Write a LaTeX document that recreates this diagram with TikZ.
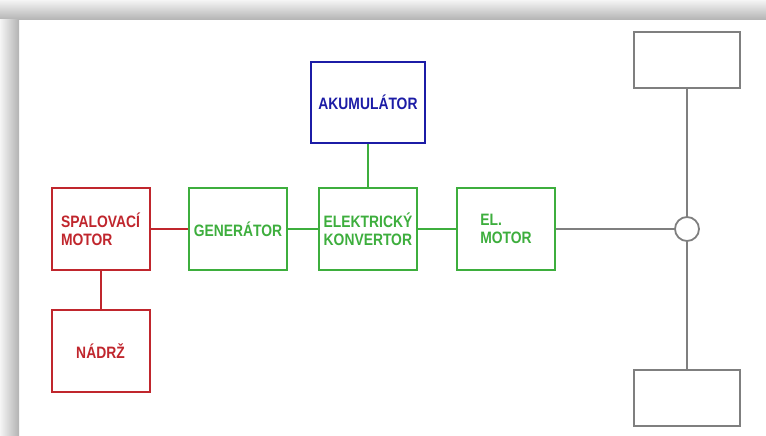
\documentclass[tikz,border=0pt]{standalone}
\usepackage{fontspec}
\newfontfamily\blokfont{Liberation Sans}[FakeStretch=0.84]
\usepackage{tikz}
\usetikzlibrary{positioning,calc,backgrounds}
\definecolor{spalred}{HTML}{C0262D}
\definecolor{elgreen}{HTML}{3DAE3D}
\definecolor{akublue}{HTML}{1C1CA6}
\definecolor{osgray}{HTML}{7F7F7F}
\tikzset{
  % bloky
  blk/.style={rectangle,line width=2pt,fill=white,minimum width=98pt,
              minimum height=82pt,inner sep=0pt,align=left,
              font=\blokfont\bfseries\fontsize{16.5}{18}\selectfont},
  spal/.style={blk,draw=spalred,text=spalred},
  elb/.style={blk,draw=elgreen,text=elgreen},
  aku/.style={blk,draw=akublue,text=akublue,minimum width=114pt,minimum height=81pt},
  kolo/.style={rectangle,draw=osgray,line width=2pt,fill=white,
               minimum width=106pt,minimum height=56pt,inner sep=0pt},
  kloub/.style={circle,draw=osgray,line width=1.8pt,fill=white,
                minimum size=24pt,inner sep=0pt},
  % spoje
  sr/.style={draw=spalred,line width=2pt},
  sg/.style={draw=elgreen,line width=2pt},
  so/.style={draw=osgray,line width=2pt},
}
\begin{document}
\begin{tikzpicture}[x=1pt,y=-1pt]
  \useasboundingbox (0,0) rectangle (766,436);
  % stin ramu
  \fill[top color=black!4,bottom color=black!30] (0,0) rectangle (766,20);
  \fill[left color=black!4,right color=black!30] (0,20) rectangle (19,436);
  \node[spal] (motor) at (100.5,229) {SPALOVACÍ\\MOTOR};
  \node[spal] (nadrz) at (100.5,351) {\raisebox{-2pt}{NÁDRŽ}};
  \node[elb] (gen) at (238,229) {GENERÁTOR};
  \node[elb] (konv) at (368,229) {ELEKTRICKÝ\\KONVERTOR};
  \node[aku] (aku) at (368,102.5) {AKUMULÁTOR};
  \node[elb] (elmot) at (506,229) {EL.\\MOTOR};
  \node[kloub] (diff) at (687,229) {};
  \node[kolo] (kolo1) at (687,60) {};
  \node[kolo] (kolo2) at (687,397.5) {};
  \begin{scope}[on background layer]
  \draw[sr] (motor) -- (gen);
  \draw[sr] (motor) -- (nadrz);
  \draw[sg] (gen) -- (konv);
  \draw[sg] (aku) -- (konv);
  \draw[sg] (konv) -- (elmot);
  \draw[so] (elmot) -- (diff);
  \draw[so] (kolo1) -- (diff);
  \draw[so] (diff) -- (kolo2);
  \end{scope}
\end{tikzpicture}
\end{document}
